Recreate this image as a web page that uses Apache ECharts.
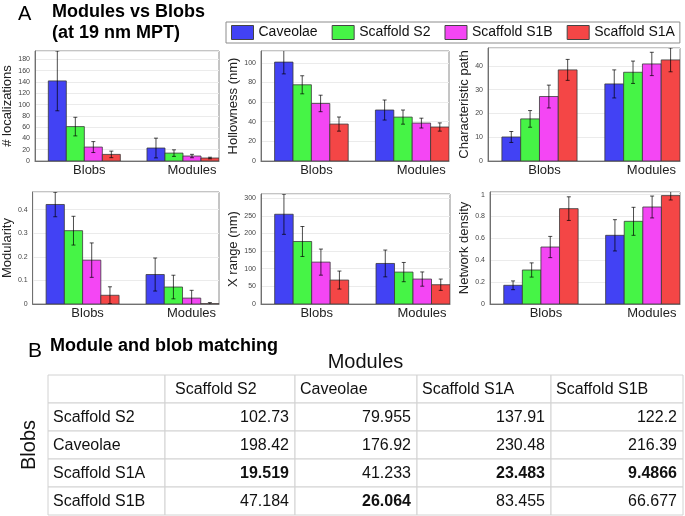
<!DOCTYPE html>
<html><head><meta charset="utf-8">
<script src="https://cdn.jsdelivr.net/npm/echarts@6/dist/echarts.min.js"></script>
<style>html,body{margin:0;padding:0;background:#fff}#c{width:685px;height:516px}</style>
</head><body><div id="c"></div>
<script>
// ---------------- DATA ----------------
const groups = ['Caveolae', 'Scaffold S2', 'Scaffold S1B', 'Scaffold S1A'];
const categories = ['Blobs', 'Modules'];

// each row: one group, values for [Blobs, Modules]
const localizationsMean = [[142, 23], [61, 14], [24.7, 8.8], [11.7, 5.3]];
const localizationsErr  = [[53, 17.5], [16.5, 5.8], [9.7, 3], [5.8, 1.4]];
const hollownessMean = [[100.7, 51.9], [77.6, 44.7], [58.6, 38.6], [37.6, 34.6]];
const hollownessErr  = [[12, 10.2], [9.2, 7.2], [8.4, 5], [7.2, 4.2]];
const charPathMean = [[10.1, 32.4], [17.7, 37.3], [27.1, 40.8], [38.3, 42.5]];
const charPathErr  = [[2.3, 5.9], [3.5, 4.7], [4.8, 4.9], [4.4, 5]];
const modularityMean = [[0.422, 0.125], [0.311, 0.072], [0.186, 0.025], [0.037, 0.001]];
const modularityErr  = [[0.052, 0.07], [0.061, 0.05], [0.073, 0.033], [0.036, 0.005]];
const xRangeMean = [[254.6, 115], [177.3, 90.5], [118.8, 70.7], [67.9, 54.7]];
const xRangeErr  = [[57, 38], [42.5, 27.3], [37, 20.2], [25.5, 16]];
const densityMean = [[0.171, 0.628], [0.311, 0.756], [0.521, 0.887], [0.872, 0.991]];
const densityErr  = [[0.04, 0.143], [0.065, 0.128], [0.097, 0.1], [0.108, 0.04]];

const yAxisNames = ['# localizations', 'Hollowness (nm)', 'Characteristic path', 'Modularity', 'X range (nm)', 'Network density'];
const yTickStep = [20, 20, 10, 0.1, 50, 0.2];
const yAxisTop = [195, 112, 47.5, 0.475, 312, 1.024];

const tableColumns = ['Scaffold S2', 'Caveolae', 'Scaffold S1A', 'Scaffold S1B'];
const tableRows = ['Scaffold S2', 'Caveolae', 'Scaffold S1A', 'Scaffold S1B'];
const matchValues = [
  [102.73, 79.955, 137.91, 122.2],
  [198.42, 176.92, 230.48, 216.39],
  [19.519, 41.233, 23.483, 9.4866],
  [47.184, 26.064, 83.455, 66.677]
];
const boldCells = [[2, 0], [2, 2], [2, 3], [3, 1]]; // [row, col]

// ---------------- LAYOUT / STYLE ----------------
const FONT = '"Liberation Sans", Arial, sans-serif';
const groupColors = ['#4242F4', '#46F446', '#F446F4', '#F44646'];
const panelData = [
  [localizationsMean, localizationsErr], [hollownessMean, hollownessErr], [charPathMean, charPathErr],
  [modularityMean, modularityErr], [xRangeMean, xRangeErr], [densityMean, densityErr]
];
const panelGrids = [
  {left: 31, top: 51, width: 188, height: 110},
  {left: 261, top: 51, width: 188, height: 110},
  {left: 488, top: 48, width: 192, height: 113},
  {left: 28, top: 192, width: 191, height: 112},
  {left: 261, top: 194, width: 189, height: 110},
  {left: 490, top: 192, width: 190, height: 112}
];
const nameGaps = [21, 19, 15, 16, 18, 17];
const BAR_W = 0.1825;
const X_MIN = 0.5, X_MAX = 2.365;
const colWidths = [117, 130, 122, 134, 132];
const colEdges = colWidths.reduce((a, w) => { a.push(a[a.length - 1] + w); return a; }, [0]);

const grids = [], xAxes = [], yAxes = [], series = [];

panelGrids.forEach((g, p) => {
  grids.push(Object.assign({show: true, borderColor: '#8a8a8a', borderWidth: 1, containLabel: false}, g));
  xAxes.push({
    gridIndex: p, type: 'value', min: X_MIN, max: X_MAX, interval: 0.5,
    axisLine: {lineStyle: {color: '#707070', width: 1}}, axisTick: {show: false}, splitLine: {show: false},
    axisLabel: {
      margin: 3, color: '#222',
      formatter: v => {
        const k = Math.round(v);
        if (Math.abs(v - k) > 1e-6 || k < 1 || k > categories.length) return '';
        return k === 1 ? '{b|' + categories[0] + '}' : '{m|' + categories[1] + '}';
      },
      rich: {
        b: {fontSize: 13, color: '#222', fontFamily: FONT, padding: [0, 0, 0, 10]},
        m: {fontSize: 13, color: '#222', fontFamily: FONT, padding: [0, 0, 0, 18]}
      }
    }
  });
  const step = yTickStep[p];
  yAxes.push({
    gridIndex: p, type: 'value', min: 0, max: yAxisTop[p], interval: step,
    name: yAxisNames[p], nameLocation: 'middle', nameRotate: 90, nameGap: nameGaps[p],
    nameTextStyle: {fontSize: 13, color: '#222', fontFamily: FONT},
    axisLine: {show: true, lineStyle: {color: '#707070', width: 1}}, axisTick: {show: false},
    splitLine: {show: true, lineStyle: {color: '#ebebeb', width: 1}},
    axisLabel: {
      fontSize: 7, color: '#444', margin: 5,
      formatter: v => {
        const k = v / step;
        if (Math.abs(k - Math.round(k)) > 1e-6) return '';
        return String(+v.toFixed(3));
      }
    }
  });
  const [means, errs] = panelData[p];
  groups.forEach((name, gi) => {
    series.push({
      type: 'custom', name: name, xAxisIndex: p, yAxisIndex: p, clip: true,
      itemStyle: {color: groupColors[gi]},
      encode: {x: 0, y: 1},
      data: categories.map((c, ci) => [ci + 1, means[gi][ci], errs[gi][ci]]),
      renderItem: (params, api) => {
        const cx = api.value(0) + (gi - 1.5) * BAR_W;
        const m = api.value(1), e = api.value(2);
        const p0 = api.coord([cx - BAR_W / 2, 0]);
        const p1 = api.coord([cx + BAR_W / 2, m]);
        const top = api.coord([cx, m + e]);
        const bot = api.coord([cx, m - e]);
        const es = {stroke: 'rgba(0,0,0,0.7)', lineWidth: 1};
        const cap = 2;
        return {type: 'group', children: [
          {type: 'rect', shape: {x: p0[0], y: p1[1], width: p1[0] - p0[0], height: p0[1] - p1[1]},
           style: {fill: api.visual('color'), stroke: '#3a3a3a', lineWidth: 0.8}},
          {type: 'line', shape: {x1: top[0], y1: top[1], x2: bot[0], y2: bot[1]}, style: es},
          {type: 'line', shape: {x1: top[0] - cap, y1: top[1], x2: top[0] + cap, y2: top[1]}, style: es},
          {type: 'line', shape: {x1: bot[0] - cap, y1: bot[1], x2: bot[0] + cap, y2: bot[1]}, style: es}
        ]};
      }
    });
  });
});

// ---------------- TABLE ----------------
const T = 6;
grids.push({left: 48, top: 375, width: colEdges[colEdges.length - 1], height: 140, show: false});
xAxes.push({
  gridIndex: T, type: 'value', min: 0, max: colEdges[colEdges.length - 1], position: 'top',
  name: 'Modules', nameLocation: 'middle', nameGap: 3,
  nameTextStyle: {fontSize: 20, color: '#111', fontFamily: FONT},
  axisLine: {show: false}, axisTick: {show: false}, axisLabel: {show: false}, splitLine: {show: false}
});
yAxes.push({
  gridIndex: T, type: 'value', min: 0, max: tableRows.length + 1, inverse: true,
  name: 'Blobs', nameLocation: 'middle', nameRotate: 90, nameGap: 9,
  nameTextStyle: {fontSize: 20, color: '#111', fontFamily: FONT},
  axisLine: {show: false}, axisTick: {show: false}, axisLabel: {show: false}, splitLine: {show: false}
});
function cellText(c, r) {
  if (r === 0) return c === 0 ? '' : tableColumns[c - 1];
  if (c === 0) return tableRows[r - 1];
  return String(matchValues[r - 1][c - 1]);
}
function cellBold(c, r) {
  return boldCells.some(b => b[0] === r - 1 && b[1] === c - 1);
}
const cells = [];
for (let r = 0; r <= tableRows.length; r++) for (let c = 0; c <= tableColumns.length; c++) cells.push([c, r]);
series.push({
  type: 'custom', xAxisIndex: T, yAxisIndex: T, silent: true, data: cells,
  renderItem: (params, api) => {
    const c = api.value(0), r = api.value(1);
    const a = api.coord([colEdges[c], r]);
    const b = api.coord([colEdges[c + 1], r + 1]);
    const numeric = r > 0 && c > 0;
    const leftPad = (r === 0 && c === 1) ? 10 : 5;
    return {type: 'group', children: [
      {type: 'rect', shape: {x: a[0], y: a[1], width: b[0] - a[0], height: b[1] - a[1]},
       style: {fill: '#fff', stroke: '#d2d2d2', lineWidth: 1}},
      {type: 'text', style: {
        text: cellText(c, r), x: numeric ? b[0] - 6 : a[0] + leftPad, y: (a[1] + b[1]) / 2 + 1,
        align: numeric ? 'right' : 'left', verticalAlign: 'middle',
        fontSize: 16, fontFamily: FONT, fontWeight: cellBold(c, r) ? 'bold' : 'normal', fill: '#111'
      }}
    ]};
  }
});

const chart = echarts.init(document.getElementById('c'));
chart.setOption({
  animation: false,
  backgroundColor: '#fff',
  textStyle: {fontFamily: FONT},
  title: [
    {text: 'A', left: 18, top: 4, padding: 0, textStyle: {fontSize: 20, fontWeight: 'normal', color: '#000', fontFamily: FONT}},
    {text: 'Modules vs Blobs\n(at 19 nm MPT)', left: 52, top: 2, padding: 0,
     textStyle: {fontSize: 18, fontWeight: 'bold', lineHeight: 21, color: '#000', fontFamily: FONT}},
    {text: 'B', left: 28, top: 341, padding: 0, textStyle: {fontSize: 21, fontWeight: 'normal', color: '#000', fontFamily: FONT}},
    {text: 'Module and blob matching', left: 50, top: 337, padding: 0,
     textStyle: {fontSize: 18, fontWeight: 'bold', color: '#000', fontFamily: FONT}}
  ],
  legend: {
    data: groups, left: 226, top: 22, padding: [3, 5, 3, 5], itemWidth: 22, itemHeight: 14, itemGap: 14,
    icon: 'rect', borderColor: '#8c8c8c', borderWidth: 1,
    itemStyle: {borderColor: '#444', borderWidth: 1},
    textStyle: {fontSize: 14, color: '#111', fontFamily: FONT}
  },
  grid: grids, xAxis: xAxes, yAxis: yAxes, series: series
});
</script>
</body></html>
